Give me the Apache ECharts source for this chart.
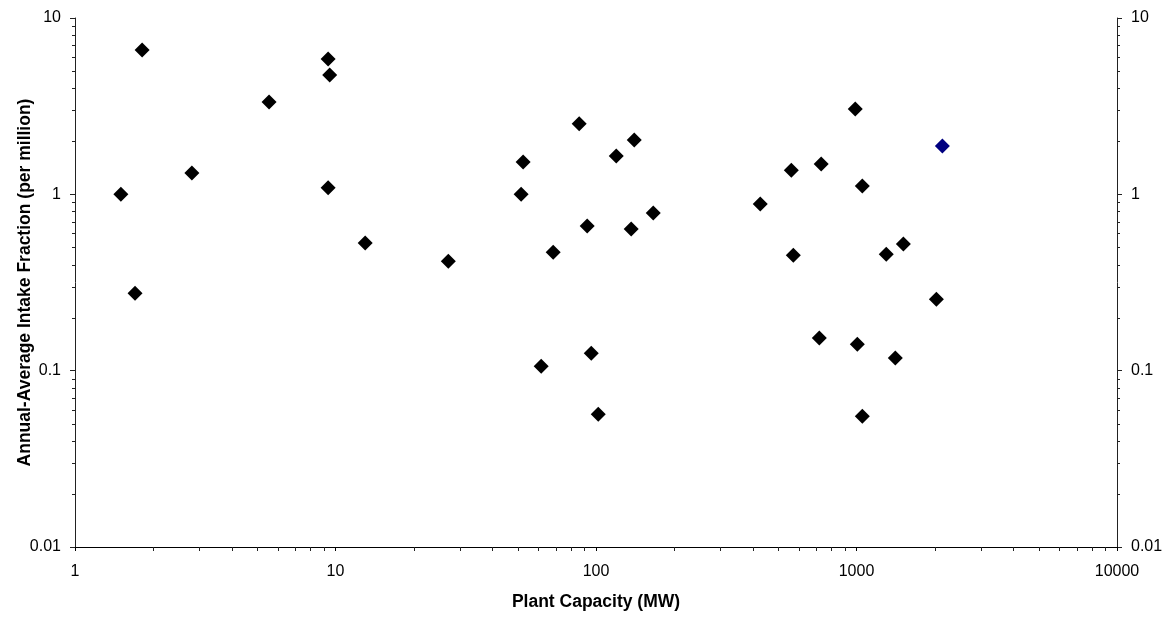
<!DOCTYPE html>
<html>
<head>
<meta charset="utf-8">
<script src="https://cdn.jsdelivr.net/npm/echarts@6/dist/echarts.min.js"></script>
<style>
html,body{margin:0;padding:0;background:#fff;}
#chart{width:1169px;height:618px;}
</style>
</head>
<body>
<div id="chart"></div>
<script>
// Plant capacity (MW) and annual-average intake fraction (per million)
const capacity = [1.5, 1.7, 1.81, 2.81, 5.56, 9.37, 9.5, 9.37, 13.0, 27.1,
  51.6, 52.5, 68.5, 61.6, 86.2, 92.5, 95.9, 102, 119.6, 136.5, 140.2, 165.9,
  427, 572, 562, 732, 720, 989, 1007, 1053, 1053, 1301, 1409, 1513, 2026];
const intakeFraction = [1.00, 0.275, 6.59, 1.32, 3.34, 5.86, 4.75, 1.09, 0.529, 0.418,
  1.00, 1.525, 0.47, 0.106, 2.51, 0.661, 0.1257, 0.0566, 1.65, 0.635, 2.03, 0.783,
  0.881, 0.452, 1.37, 1.486, 0.153, 3.05, 0.1414, 1.115, 0.0552, 0.458, 0.1178, 0.522, 0.2545];
const highlightCapacity = [2136];
const highlightIntake = [1.88];

const xTickLabels = ['1', '10', '100', '1000', '10000'];
const yTickLabels = ['0.01', '0.1', '1', '10'];

const xMin = 1, xMax = 10000, yMin = 0.01, yMax = 10;

function minorValues(lo, hi) {
  const out = [];
  for (let d = lo; d < hi; d *= 10) {
    for (let k = 2; k <= 9; k++) out.push(+(d * k).toPrecision(6));
  }
  return out;
}
const xMinor = minorValues(xMin, xMax).map(v => ['x', v]);
const yMinor = minorValues(yMin, yMax).map(v => ['y', v]);
const minorAll = xMinor.concat(yMinor);

const fmt = v => String(+Number(v).toPrecision(6));

const chart = echarts.init(document.getElementById('chart'), null, {renderer: 'canvas'});
const font = 'Liberation Sans, Arial, sans-serif';

chart.setOption({
  animation: false,
  backgroundColor: '#ffffff',
  grid: {left: 75, right: 52, top: 18, bottom: 71, containLabel: false, outerBoundsMode: 'none'},
  xAxis: {
    type: 'log', logBase: 10, min: xMin, max: xMax,
    name: 'Plant Capacity (MW)', nameLocation: 'middle', nameGap: 46, nameMoveOverlap: false,
    nameTextStyle: {fontFamily: font, fontSize: 17.5, fontWeight: 'bold', color: '#000'},
    axisLine: {show: true, lineStyle: {color: '#000', width: 1}},
    axisTick: {show: true, inside: false, length: 4, lineStyle: {color: '#000'}},
    axisLabel: {fontFamily: font, fontSize: 16, color: '#000', margin: 17,
      formatter: v => xTickLabels.includes(fmt(v)) ? fmt(v) : ''},
    splitLine: {show: false}
  },
  yAxis: [{
    type: 'log', logBase: 10, min: yMin, max: yMax, position: 'left',
    name: 'Annual-Average Intake Fraction (per million)', nameLocation: 'middle', nameGap: 41,
    nameRotate: 90, nameMoveOverlap: false,
    nameTextStyle: {fontFamily: font, fontSize: 17.5, fontWeight: 'bold', color: '#000'},
    axisLine: {show: true, lineStyle: {color: '#222', width: 1}},
    axisTick: {show: true, inside: false, length: 5, lineStyle: {color: '#222'}},
    axisLabel: {fontFamily: font, fontSize: 16, color: '#000', margin: 14,
      formatter: v => yTickLabels.includes(fmt(v)) ? fmt(v) : ''},
    splitLine: {show: false}
  }, {
    type: 'log', logBase: 10, min: yMin, max: yMax, position: 'right',
    axisLine: {show: true, lineStyle: {color: '#222', width: 1}},
    axisTick: {show: true, inside: false, length: 5, lineStyle: {color: '#222'}},
    axisLabel: {fontFamily: font, fontSize: 16, color: '#000', margin: 14,
      formatter: v => yTickLabels.includes(fmt(v)) ? fmt(v) : ''},
    splitLine: {show: false}
  }],
  series: [{
    type: 'scatter',
    symbol: 'diamond',
    symbolSize: 15,
    itemStyle: {color: '#000000', opacity: 1},
    data: capacity.map((c, i) => [c, intakeFraction[i]]),
    z: 3
  }, {
    type: 'scatter',
    symbol: 'diamond',
    symbolSize: 15,
    itemStyle: {color: '#000080', opacity: 1},
    data: highlightCapacity.map((c, i) => [c, highlightIntake[i]]),
    z: 3
  }, {
    type: 'custom',
    silent: true,
    clip: false,
    data: minorAll,
    encode: {x: -1, y: -1},
    renderItem: function (params, api) {
      const v = api.value(1);
      const kind = minorAll[params.dataIndex][0];
      const style = {stroke: '#222', lineWidth: 1};
      if (kind === 'x') {
        const p = api.coord([v, yMin]);
        const xx = Math.round(p[0]) + 0.5;
        return {type: 'line', shape: {x1: xx, y1: p[1], x2: xx, y2: p[1] + 4}, style: style};
      } else {
        const pl = api.coord([xMin, v]);
        const pr = api.coord([xMax, v]);
        const yy = Math.round(pl[1]) + 0.5;
        return {type: 'group', children: [
          {type: 'line', shape: {x1: pl[0] - 3, y1: yy, x2: pl[0], y2: yy}, style: style},
          {type: 'line', shape: {x1: pr[0], y1: yy, x2: pr[0] + 3, y2: yy}, style: style}
        ]};
      }
    },
    z: 1
  }]
});
</script>
</body>
</html>
